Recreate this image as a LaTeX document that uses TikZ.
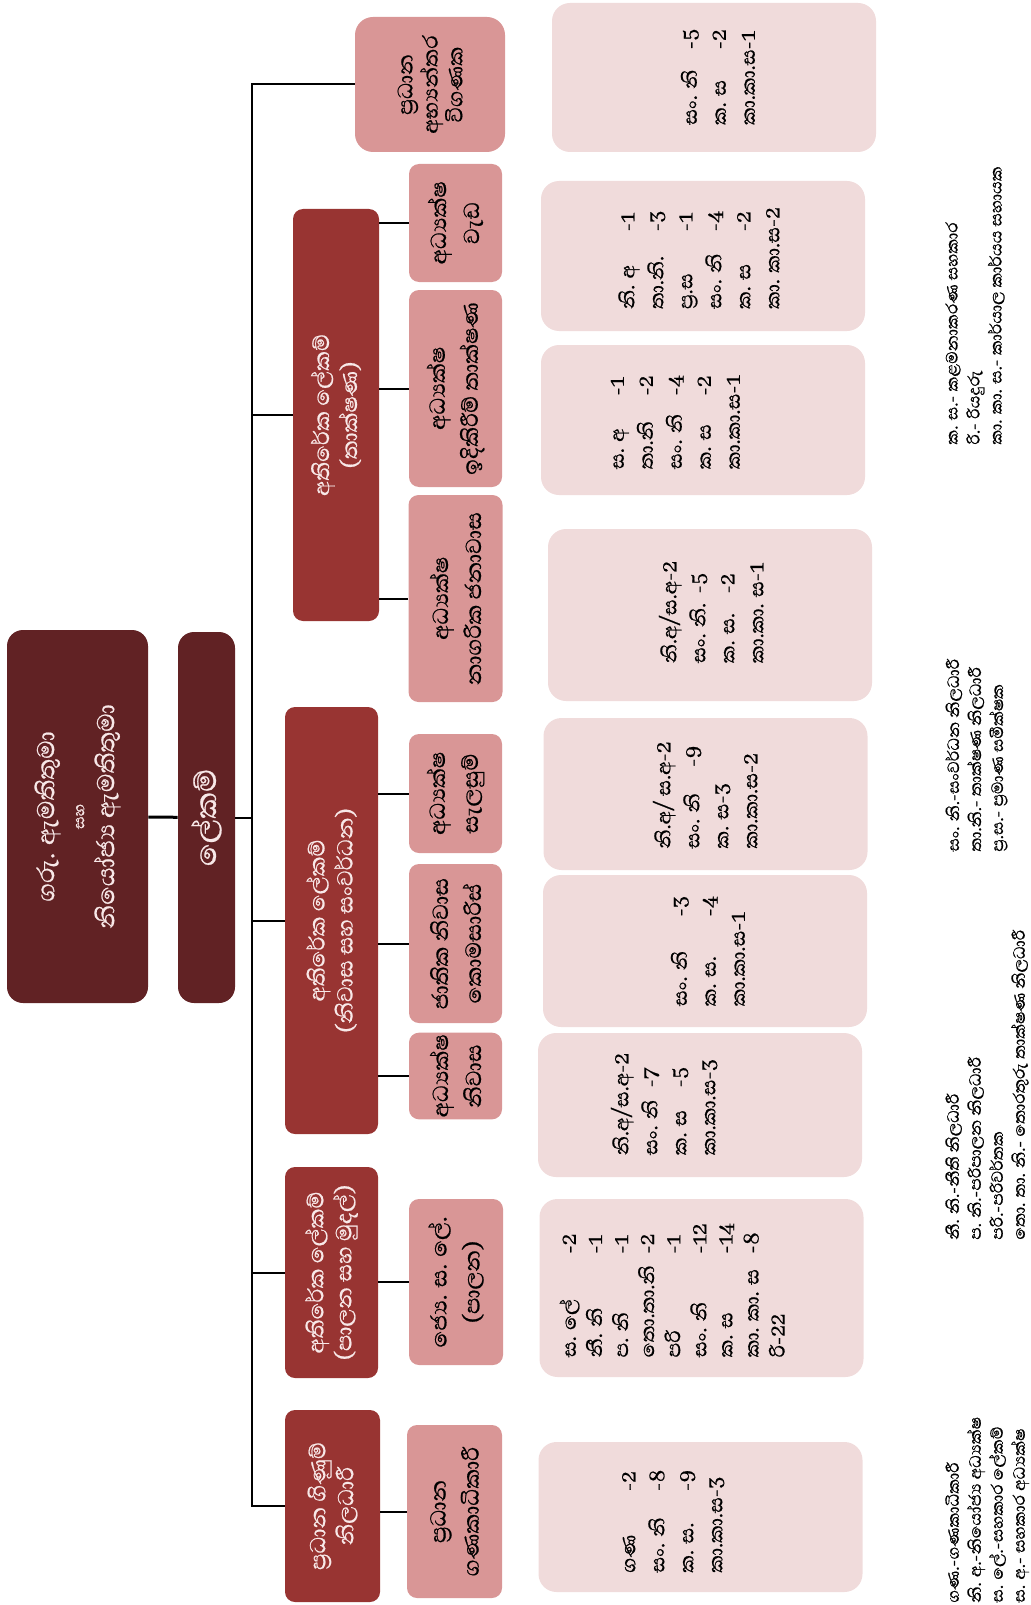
\documentclass[tikz,border=0pt]{standalone}
\usepackage{fontspec}
\setmainfont[Script=Sinhala, FakeBold=0.6]{Abhaya Libre}
\definecolor{ministerc}{RGB}{97,34,36}
\definecolor{deptc}{RGB}{152,52,50}
\definecolor{unitc}{RGB}{217,150,150}
\definecolor{staffc}{RGB}{240,219,219}
\definecolor{headtext}{RGB}{248,232,232}
\newcommand{\stafftab}[2]{\begin{tabular}{@{}p{#1}@{}l@{}}#2\end{tabular}}
\newcommand{\whole}[1]{\multicolumn{2}{@{}l@{}}{#1}}
\newcommand{\zwj}{^^^^200d}

\begin{document}
\begin{tikzpicture}[
    x=0.5pt, y=-0.5pt,
    box/.style={rotate=90, align=center, inner sep=1pt, rounded corners=5pt},
    chief/.style={box, fill=ministerc, text=headtext, rounded corners=8pt},
    dept/.style={box, fill=deptc, text=headtext, font=\fontsize{14}{14}\selectfont},
    unitbox/.style={box, fill=unitc, font=\fontsize{14}{16.5}\selectfont},
    staffbox/.style={rotate=90, fill=staffc, rounded corners=9pt, minimum height=162pt},
    staff/.style={rotate=90, align=left, inner sep=0pt, font=\fontsize{12.5}{14.5}\selectfont},
    keytext/.style={rotate=90, align=left, inner sep=0pt, anchor=north west, font=\fontsize{10.5}{11}\selectfont},
    conn/.style={line width=1pt}
  ]
    \useasboundingbox (0,0) rectangle (1030,1605);

    \node[chief, minimum width=186.5pt, minimum height=70.5pt, font=\fontsize{15.5}{15}\selectfont] (minister) at (77.5,816.5)
      {ගරු. ඇමතිතුමා\\{\fontsize{10}{11}\selectfont සහ}\\නියෝජ්\zwj ය ඇමතිතුමා};
    \node[chief, minimum width=185.5pt, minimum height=28.5pt, font=\fontsize{19}{19}\selectfont] (secretary) at (206.5,817.5) {ලේකම්};

    \node[dept, minimum width=96pt, minimum height=47.5pt] (chiefacc) at (332.5,1506) {ප්\zwj රධාන ගිණුම්\\නිලධාරී};
    \node[dept, minimum width=105.5pt, minimum height=46.5pt] (addadmin) at (331.5,1272.5) {අතිරේක ලේකම්\\(පාලන සහ මුදල්)};
    \node[dept, minimum width=213.5pt, minimum height=46.5pt] (addhousing) at (331.5,920.5) {අතිරේක ලේකම්\\(නිවාස සහ සංවර්ධන)};
    \node[dept, minimum width=206pt, minimum height=43pt] (addtech) at (336,415) {අතිරේක ලේකම්\\(තාක්ෂණ)};

    \node[unitbox, minimum width=86.5pt, minimum height=47.5pt] (accountant) at (454.5,1511.5) {ප්\zwj රධාන\\ගණකාධිකාරී};
    \node[unitbox, minimum width=83pt, minimum height=47pt] (seniorasst) at (456,1282) {ජ්\zwj යෙ. ස. ලේ.\\(පාලන)};
    \node[unitbox, minimum width=43pt, minimum height=46.5pt] (dirhousing) at (455.5,1076) {අධ්\zwj යක්ෂ\\නිවාස};
    \node[unitbox, minimum width=79.5pt, minimum height=46.5pt] (commissioner) at (455.5,943.5) {ජාතික නිවාස\\කොමසාරිස්};
    \node[unitbox, minimum width=59.5pt, minimum height=46.5pt] (dirplanning) at (455.5,793.5) {අධ්\zwj යක්ෂ\\සැලසුම්};
    \node[unitbox, minimum width=103.5pt, minimum height=47pt] (dirurban) at (455.5,598.5) {අධ්\zwj යක්ෂ\\නාගරික ජනාවාස};
    \node[unitbox, minimum width=98.5pt, minimum height=46.5pt] (dirconst) at (455.5,388.5) {අධ්\zwj යක්ෂ\\ඉදිකිරීම් තාක්ෂණ};
    \node[unitbox, minimum width=59pt, minimum height=46.5pt] (dirworks) at (455.5,223) {අධ්\zwj යක්ෂ\\වැඩ};
    \node[unitbox, minimum width=67.5pt, minimum height=75pt, rounded corners=9pt, font=\fontsize{13.5}{11}\selectfont] (auditor) at (430,84.5)
      {ප්\zwj රධාන\\අභ්\zwj යන්තර\\විගණක};

    \node[staffbox, minimum width=75pt] (acctbox) at (700.5,1517) {};
    \node[staffbox, minimum width=89pt] (adminbox) at (701.5,1288) {};
    \node[staffbox, minimum width=72pt] (housebox) at (700,1105) {};
    \node[staffbox, minimum width=76pt] (commbox) at (705,951) {};
    \node[staffbox, minimum width=76pt] (planbox) at (705.5,794) {};
    \node[staffbox, minimum width=86pt] (urbanbox) at (710,615) {};
    \node[staffbox, minimum width=75pt] (constbox) at (703,420) {};
    \node[staffbox, minimum width=75pt] (worksbox) at (703,256) {};
    \node[staffbox, minimum width=74.5pt] (auditbox) at (714,77.5) {};

    \node[staff] (acctlist) at (673,1521) {\stafftab{41pt}{ගණ & -2\\ සං. නි & -8\\ ක. ස. & -9\\ \whole{කා.කා.ස-3}}};
    \node[staff] (adminlist) at (675,1290) {\renewcommand{\arraystretch}{0.9}\stafftab{52pt}{ස. ලේ & -2\\ නී. නි & -1\\ ප. නි & -1\\ තො.තා.නි & -2\\ පරි & -1\\ සං. නි & -12\\ ක. ස & -14\\ කා. කා. ස & -8\\ \whole{රි-22}}};
    \node[staff] (houselist) at (666,1104) {\stafftab{34pt}{\whole{නි.අ/ස.අ-2}\\ සං. නි & -7\\ ක. ස & -5\\ \whole{කා.කා.ස-3}}};
    \node[staff] (commlist) at (710,951) {\stafftab{45pt}{සං. නි & -3\\ ක. ස. & -4\\ \whole{කා.කා.ස-1}}};
    \node[staff] (planlist) at (708,795) {\stafftab{41pt}{\whole{නි.අ/ ස.අ-2}\\ සං. නි & -9\\ \whole{ක. ස-3}\\ \whole{කා.කා.ස-2}}};
    \node[staff] (urbanlist) at (714,612) {\stafftab{35pt}{\whole{නි.අ/ස.අ-2}\\ සං. නි. & -5\\ ක. ස. & -2\\ \whole{කා.කා. ස-1}}};
    \node[staff] (constlist) at (676,422) {\stafftab{37pt}{ස. අ & -1\\ තා.නි & -2\\ සං. නි & -4\\ ක. ස & -2\\ \whole{කා.කා.ස-1}}};
    \node[staff] (workslist) at (701,258) {\stafftab{39pt}{නි. අ & -1\\ තා.නි. & -3\\ ප්\zwj ර.ස & -1\\ සං. නි & -4\\ ක. ස & -2\\ \whole{කා. කා.ස-2}}};
    \node[staff] (auditlist) at (720,77) {\stafftab{38pt}{සං. නි & -5\\ ක. ස & -2\\ \whole{කා.කා.ස-1}}};

    \node[keytext] (keyone) at (945,1603) {ගණ.-ගණකාධිකාරී\\නි. අ.-නියෝජ්\zwj ය අධ්\zwj යක්ෂ\\ස. ලේ.-සහකාර ලේකම්\\ස. අ.- සහකාර අධ්\zwj යක්ෂ};
    \node[keytext] (keytwo) at (945,1240) {නී. නි.-නීති නිලධාරී\\ප. නි.-පරිපාලන නිලධාරී\\පරි.-පරිවර්තක\\තො. තා. නි.- තොරතුරු තාක්ෂණ නිලධාරී};
    \node[keytext] (keythree) at (945,852) {සං. නි.-සංවර්ධන නිලධාරී\\තා.නි.- තාක්ෂණ නිලධාරී\\ප්\zwj ර.ස.- ප්\zwj රමාණ සමීක්ෂක};
    \node[keytext] (keyfour) at (945,445) {ක. ස.- කළමනාකරණ සහකාර\\රි.- රියදුරු\\කා. කා. ස.- කාර්යාල කාර්යය සහායක};

    \coordinate (bus) at (252,0);
    \draw[line width=1.5pt] (minister) -- (secretary);
    \draw[conn] (secretary) -- (bus |- secretary);
    \draw[conn] (auditor) -- (bus |- auditor) -- (bus |- chiefacc) -- (chiefacc);
    \draw[conn] (bus |- addadmin) -- (addadmin);
    \draw[conn] (bus |- addhousing) -- (addhousing);
    \draw[conn] (bus |- addtech) -- (addtech);

    \draw[conn] (chiefacc.south |- accountant) -- (accountant);
    \draw[conn] (addadmin.south |- seniorasst) -- (seniorasst);
    \draw[conn] (addhousing.south |- dirhousing) -- (dirhousing);
    \draw[conn] (addhousing.south |- commissioner) -- (commissioner);
    \draw[conn] (addhousing.south |- dirplanning) -- (dirplanning);
    \draw[conn] (addtech.south |- dirurban) -- (dirurban);
    \draw[conn] (addtech.south |- dirconst) -- (dirconst);
    \draw[conn] (addtech.south |- dirworks) -- (dirworks);
  \end{tikzpicture}
\end{document}
